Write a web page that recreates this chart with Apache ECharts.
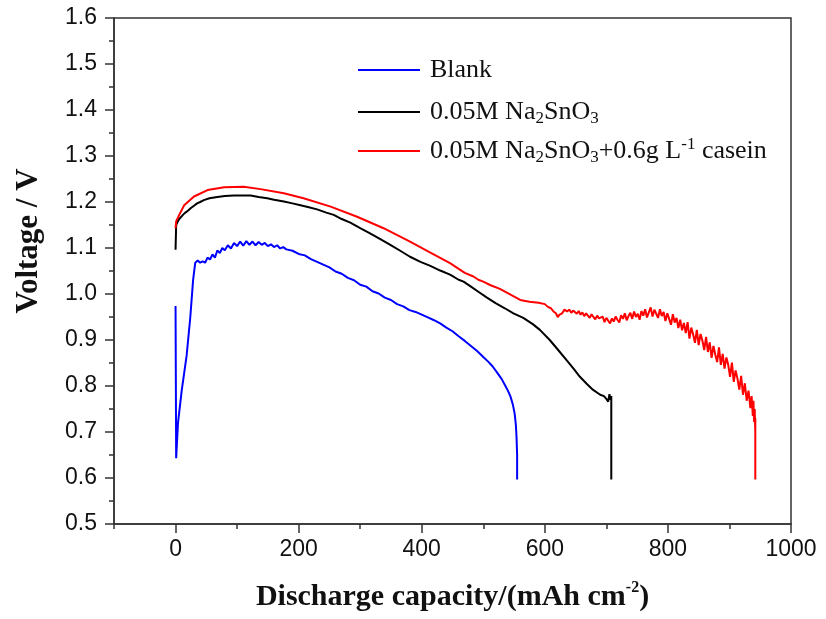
<!DOCTYPE html>
<html>
<head>
<meta charset="utf-8">
<script src="https://cdn.jsdelivr.net/npm/echarts@6/dist/echarts.min.js"></script>
<style>
html,body{margin:0;padding:0;background:#fff;}
#chart{width:826px;height:619px;}
</style>
</head>
<body>
<div id="chart"></div>
<script>
// Discharge capacity (mAh cm^-2) and voltage (V)
const seriesNames = ['Blank', '0.05M Na2SnO3', '0.05M Na2SnO3+0.6g L-1 casein'];

const blankCap = [0,1,4,10,18,24,28.5,32,36,40, 44,48,52,56,60,64,68,72,76,80, 85,90,95,100,105,110,115,120,125,130,
  135,140,145,150,155,160,165,170,175,180, 190,200,210,220,230,240,250,260,270,280, 290,300,310,320,330,340,350,360,370,380,
  390,400,410,420,430,440,450,460,470,480, 490,500,508,515,522,530,536,540,544,548, 551,553,554,555,555];
const blankVolt = [0.974,0.643,0.72,0.79,0.866,0.95,1.03,1.068,1.073,1.068, 1.071,1.068,1.079,1.075,1.086,1.079,1.095,1.089,1.100,1.095,
  1.106,1.099,1.111,1.104,1.114,1.105,1.115,1.107,1.114,1.106, 1.113,1.107,1.111,1.104,1.108,1.102,1.106,1.099,1.102,1.097,
  1.094,1.087,1.084,1.076,1.070,1.064,1.058,1.049,1.044,1.035, 1.030,1.020,1.016,1.006,1.001,0.992,0.987,0.978,0.973,0.965,
  0.961,0.955,0.949,0.943,0.936,0.927,0.919,0.908,0.898,0.887, 0.876,0.863,0.853,0.843,0.830,0.815,0.800,0.790,0.778,0.760,
  0.740,0.715,0.690,0.650,0.597];

const stannateCap = [0,1,3,6,9,12,16,20,25,30, 35,40,46,55,68,80,95,110,122,135, 149,160,176,190,203,215,230,245,257,270,
  284,300,316,332,349,365,381,398,414,430, 446,460,468,480,492,506,520,535,549,565, 581,592,608,620,635,647,657,668,678,690,
  696,700,703,705,707,708,708];
const stannateVolt = [1.096,1.150,1.156,1.163,1.167,1.172,1.177,1.181,1.187,1.192, 1.197,1.200,1.204,1.208,1.211,1.213,1.214,1.214,1.214,1.211,
  1.208,1.205,1.201,1.197,1.193,1.189,1.184,1.177,1.172,1.163, 1.155,1.143,1.132,1.120,1.107,1.094,1.081,1.070,1.061,1.051,
  1.042,1.031,1.027,1.016,1.005,0.992,0.980,0.969,0.958,0.948, 0.934,0.922,0.900,0.881,0.857,0.837,0.820,0.805,0.792,0.781,
  0.778,0.772,0.766,0.782,0.770,0.778,0.597];

const caseinCap = [0,1,6,14,30,52,79,111,138,176, 208,252,295,338,381,414,446,470,484,492, 500,512,527,545,560,575,590,600,605,610,
  614,618,621,624,628,632,636,
  640,643,646,649,652,655,658,661,664,667, 670,673,676,679,682,685,688,691,694,697, 700,703,706,709,712,715,718,721,724,727,
  730,733,736,739,742,745,748,751,754,757, 760,763,766,769,772,775,778,781,784,787, 790,793,796,799,802,805,808,811,814,817,
  820,823,826,829,832,835,838,841,844,847, 850,853,856,859,862,865,868,871,874,877, 880,883,886,889,892,895,898,901,904,907,
  910,913,916,919,922,925,928,931,934, 936,938,939,940,941,942,942,942];
const caseinVolt = [1.143,1.158,1.172,1.193,1.212,1.226,1.232,1.233,1.228,1.219, 1.208,1.190,1.168,1.143,1.114,1.090,1.067,1.046,1.038,1.031,
  1.027,1.019,1.011,0.998,0.987,0.983,0.981,0.978,0.972,0.969, 0.962,0.958,0.950,0.955,0.958,0.966,0.962,
  0.966,0.959,0.964,0.960,0.957,0.963,0.955,0.960,0.952,0.958, 0.953,0.948,0.956,0.950,0.945,0.953,0.947,0.943,0.951,0.939,
  0.948,0.944,0.936,0.947,0.940,0.951,0.944,0.938,0.954,0.946, 0.958,0.943,0.952,0.959,0.946,0.962,0.950,0.957,0.944,0.963,
  0.953,0.967,0.949,0.960,0.971,0.951,0.966,0.957,0.948,0.967, 0.952,0.961,0.941,0.958,0.946,0.933,0.956,0.938,0.948,0.926,
  0.944,0.921,0.937,0.915,0.939,0.903,0.927,0.912,0.894,0.922, 0.889,0.913,0.899,0.878,0.907,0.874,0.895,0.861,0.887,0.868,
  0.852,0.884,0.846,0.870,0.838,0.862,0.846,0.820,0.851,0.809, 0.834,0.816,0.792,0.822,0.781,0.806,0.768,0.790,0.752,
  0.778,0.735,0.768,0.722,0.750,0.700,0.730,0.597];

const xTickLabels = [0, 200, 400, 600, 800, 1000];

function zip(a, b) { return a.map((v, i) => [v, b[i]]); }

const serif = 'Liberation Serif, Times New Roman, serif';
const sans = 'Liberation Sans, Arial, sans-serif';
const axisColor = '#333';

const chart = echarts.init(document.getElementById('chart'), null, {renderer: 'canvas'});
const legendRich = {
  n: {fontFamily: serif, fontSize: 26, color: '#111', lineHeight: 30},
  sub: {fontFamily: serif, fontSize: 17, color: '#111', lineHeight: 17, verticalAlign: 'bottom'},
  sup: {fontFamily: serif, fontSize: 17, color: '#111', lineHeight: 17, verticalAlign: 'top'}
};
const legendFmt = {
  'Blank': '{n|Blank}',
  '0.05M Na2SnO3': '{n|0.05M Na}{sub|2}{n|SnO}{sub|3}',
  '0.05M Na2SnO3+0.6g L-1 casein': '{n|0.05M Na}{sub|2}{n|SnO}{sub|3}{n|+0.6g L}{sup|-1}{n| casein}'
};
const legendRowCenters = [72, 114, 151];
const legends = seriesNames.map((name, i) => ({
  orient: 'vertical', left: 353, top: legendRowCenters[i] - 20,
  itemWidth: 62, itemHeight: 2, icon: 'rect',
  data: [name],
  formatter: n => legendFmt[n],
  textStyle: {rich: legendRich, padding: [0, 0, 0, 5]}
}));

chart.setOption({
  animation: false,
  backgroundColor: '#fff',
  grid: {left: 114, right: 35, top: 18, bottom: 95, show: true, borderColor: axisColor, borderWidth: 1.5, containLabel: false},
  legend: legends,
  xAxis: [{
    type: 'value', min: -100, max: 1000, position: 'bottom',
    splitLine: {show: false},
    axisLine: {show: true, onZero: false, lineStyle: {color: axisColor, width: 1.5}},
    axisTick: {show: true, length: 9, customValues: xTickLabels, lineStyle: {color: axisColor, width: 1.5}},
    axisLabel: {show: true, customValues: xTickLabels, formatter: v => String(v), margin: 14, fontFamily: sans, fontSize: 23, color: '#111'},
    name: '{t|Discharge capacity/(mAh cm}{s|-2}{t|)}',
    nameLocation: 'middle', nameGap: 56,
    nameTextStyle: {rich: {
      t: {fontFamily: serif, fontWeight: 'bold', fontSize: 30, color: '#111', lineHeight: 34},
      s: {fontFamily: serif, fontWeight: 'bold', fontSize: 16, color: '#111', lineHeight: 16, verticalAlign: 'top'}
    }}
  }, {
    type: 'value', min: -100, max: 1000, interval: 100, position: 'bottom',
    splitLine: {show: false},
    axisLine: {show: false},
    axisTick: {show: true, length: 5, lineStyle: {color: axisColor, width: 1.5}},
    axisLabel: {show: false}
  }],
  yAxis: {
    type: 'value', min: 0.5, max: 1.6, interval: 0.1,
    splitLine: {show: false},
    axisLine: {show: true, onZero: false, lineStyle: {color: axisColor, width: 1.5}},
    axisTick: {show: true, length: 9, lineStyle: {color: axisColor, width: 1.5}},
    minorTick: {show: true, splitNumber: 2, length: 5, lineStyle: {color: axisColor, width: 1.5}},
    axisLabel: {formatter: v => v.toFixed(1), margin: 17, fontFamily: sans, fontSize: 23, color: '#111'},
    name: 'Voltage / V', nameLocation: 'middle', nameGap: 70,
    nameTextStyle: {fontFamily: serif, fontWeight: 'bold', fontSize: 31, color: '#111', padding: [0, 0, 0, 60]}
  },
  series: [
    {name: seriesNames[0], type: 'line', showSymbol: false, symbol: 'none', data: zip(blankCap, blankVolt),
     lineStyle: {color: '#0000ff', width: 2}, itemStyle: {color: '#0000ff'}},
    {name: seriesNames[1], type: 'line', showSymbol: false, symbol: 'none', data: zip(stannateCap, stannateVolt),
     lineStyle: {color: '#000000', width: 2}, itemStyle: {color: '#000000'}},
    {name: seriesNames[2], type: 'line', showSymbol: false, symbol: 'none', data: zip(caseinCap, caseinVolt),
     lineStyle: {color: '#ff0000', width: 2}, itemStyle: {color: '#ff0000'}}
  ]
});
</script>
</body>
</html>
